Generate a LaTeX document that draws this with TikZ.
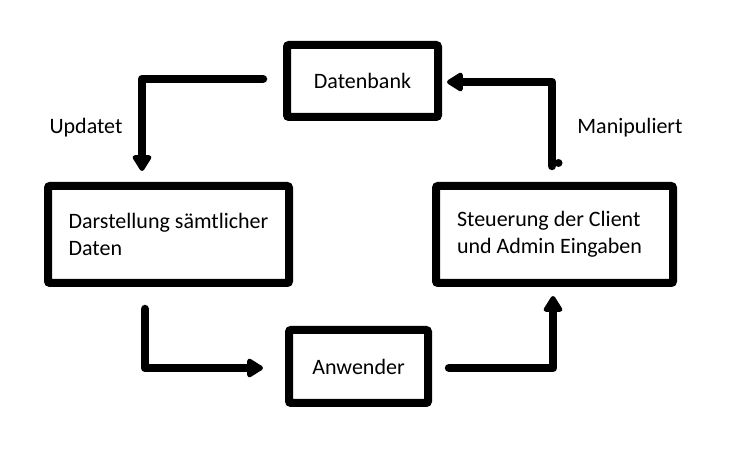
\documentclass[tikz,border=0pt]{standalone}
\usepackage{fontspec}
\setmainfont{Carlito}
\usepackage{tikz}
\usetikzlibrary{
    arrows.meta,
    positioning
}

\begin{document}
\begin{tikzpicture}[x=1pt, y=-1pt, >=Latex,
    box/.style={draw, line width=8pt, rounded corners=2pt, font=\fontsize{22}{27}\selectfont, align=flush left, inner sep=0pt},
    flow/.style={line width=8.5pt, line cap=round, line join=round, -{Triangle[length=18pt, width=21pt, round]}},
    lbl/.style={font=\fontsize{22}{27}\selectfont}
]

\useasboundingbox (0,0) rectangle (737,470);

% boxes
\node[box, minimum width=151pt, minimum height=72pt] (db) at (362.5,81) {Datenbank};
\node[box, minimum width=241pt, minimum height=97pt] (dar) at (168.5,234.5) {Darstellung sämtlicher\\Daten};
\node[box, minimum width=237pt, minimum height=97pt, text width=195pt, inner xsep=21pt] (ste) at (554.5,234.5) {Steuerung der Client\\und Admin Eingaben};
\node[box, minimum width=139pt, minimum height=73pt] (anw) at (358.5,366.5) {Anwender};

% labels
\node[lbl] (upd) at (86,128) {Updatet};
\node[lbl] (man) at (630,128) {Manipuliert};

% cycle arrows
\draw[flow] ([xshift=-20pt,yshift=2pt]db.west) -| ([xshift=-26.5pt,yshift=11pt]dar.north);
\draw[flow] ([xshift=-23.5pt,yshift=-22pt]dar.south) |- ([xshift=-22pt,yshift=-1.5pt]anw.west);
\draw[flow] ([xshift=17pt,yshift=-1.5pt]anw.east) -| ([xshift=-1.5pt,yshift=-9pt]ste.south);
\draw[flow] ([xshift=-2.5pt,yshift=16pt]ste.north) |- ([xshift=5pt,yshift=-1pt]db.east);
\fill ([xshift=4pt,yshift=19pt]ste.north) circle (4pt);

\end{tikzpicture}
\end{document}
